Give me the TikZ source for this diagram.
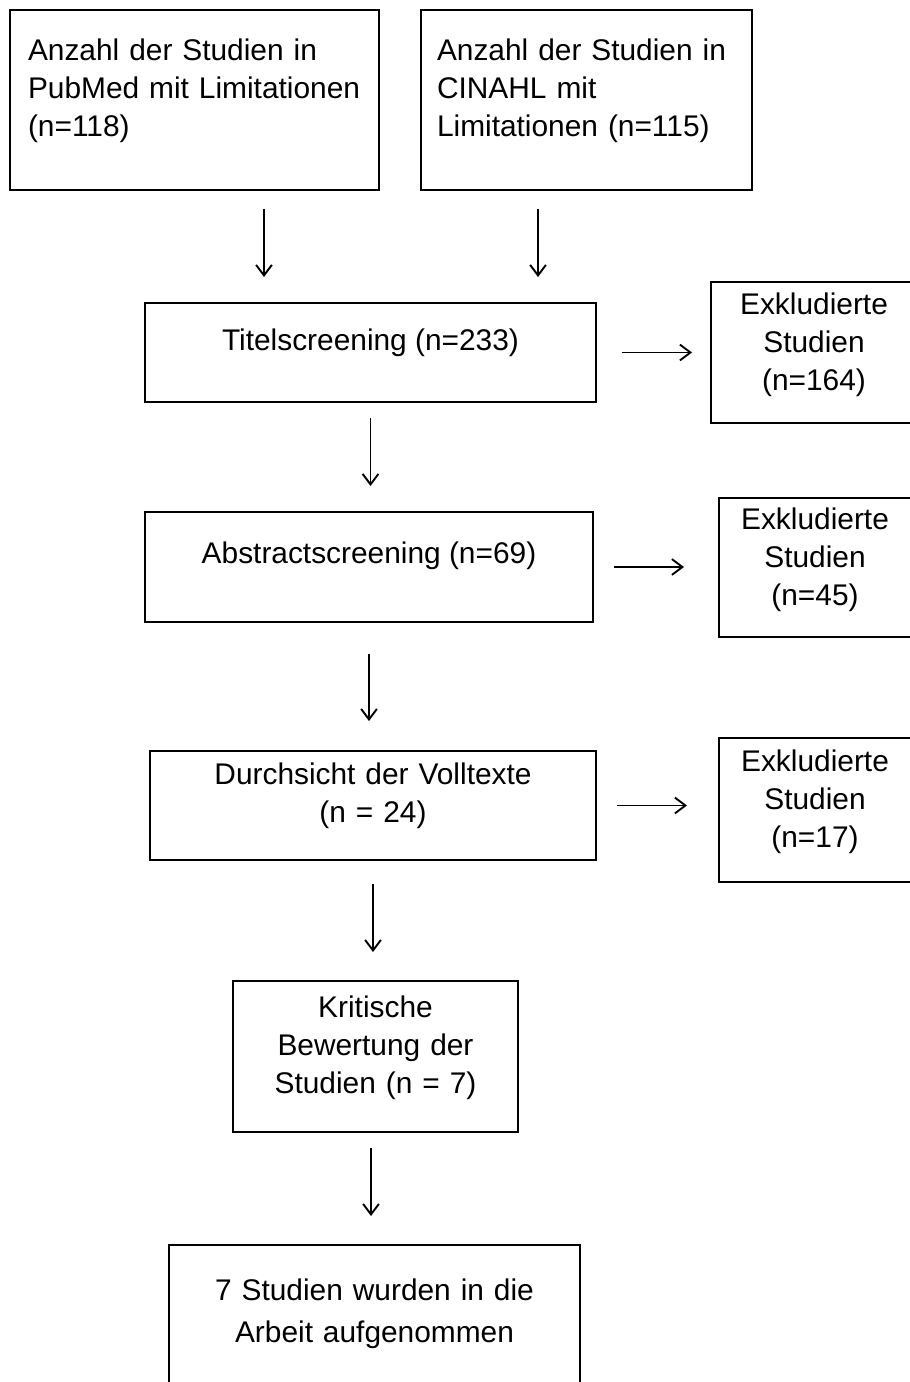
\documentclass[tikz,border=0pt]{standalone}
\usepackage{fontspec}
\setmainfont{Liberation Sans}
\usetikzlibrary{arrows.meta}

\begin{document}
\begin{tikzpicture}[->, >={Straight Barb[length=6pt,width=9pt]}, line width=1.1pt, x=0.02cm, y=-0.02cm,
  every edge/.append style={line width=1.1pt},
  box/.style={draw, rectangle, inner sep=0pt, text height=12.5pt, font=\fontsize{17}{21.5}\selectfont}]
  \useasboundingbox (0,0) rectangle (909,1382);

  \node[box, minimum width=7.38cm, minimum height=3.6cm, text width=6.66cm, align=left, text depth=57pt] (Pub) at (194.5,100) {Anzahl der Studien in\\PubMed mit Limitationen\\(n=118)};
  \node[box, minimum width=6.62cm, minimum height=3.6cm, text width=5.98cm, align=left, text depth=57pt] (Cin) at (586.5,100) {Anzahl der Studien in\\CINAHL mit\\Limitationen (n=115)};
  \node[box, minimum width=9.02cm, minimum height=1.98cm, text depth=14.6pt] (Titel) at (370.5,352.5) {Titelscreening (n=233)};
  \node[box, minimum width=4.12cm, minimum height=2.82cm, text width=3.8cm, align=center, text depth=55.4pt] (Ex1) at (814,352.5) {Exkludierte\\Studien\\(n=164)};
  \node[box, minimum width=8.96cm, minimum height=2.2cm, text depth=16.2pt] (Abs) at (369,567) {Abstractscreening (n=69)};
  \node[box, minimum width=3.84cm, minimum height=2.78cm, text width=3.6cm, align=center, text depth=55.4pt] (Ex2) at (815,567.5) {Exkludierte\\Studien\\(n=45)};
  \node[box, minimum width=8.92cm, minimum height=2.18cm, text width=7.6cm, align=center, text depth=36.2pt] (Voll) at (373,805.5) {Durchsicht der Volltexte\\(n = 24)};
  \node[box, minimum width=3.84cm, minimum height=2.88cm, text width=3.6cm, align=center, text depth=56pt] (Ex3) at (815,810) {Exkludierte\\Studien\\(n=17)};
  \node[box, minimum width=5.7cm, minimum height=3.02cm, text width=5cm, align=center, text depth=56.4pt] (Krit) at (375.5,1056.5) {Kritische\\Bewertung der\\Studien (n = 7)};
  \node[box, minimum width=8.22cm, minimum height=3.1cm, text width=7cm, align=center, text depth=37.2pt, font=\fontsize{17}{23.8}\selectfont] (End) at (374.5,1322.5) {7 Studien wurden in die\\Arbeit aufgenommen};

  \path ([xshift=1.39cm]Pub.south) edge[shorten <=0.36cm, shorten >=0.5cm] ([xshift=1.39cm]Pub.south |- Titel.north)
        ([xshift=-0.97cm]Cin.south) edge[shorten <=0.36cm, shorten >=0.5cm] ([xshift=-0.97cm]Cin.south |- Titel.north)
        (Titel.east) edge[shorten <=0.5cm, shorten >=0.36cm] (Titel.east -| Ex1.west)
        (Titel.south) edge[shorten <=0.3cm, shorten >=0.5cm] (Titel.south |- Abs.north)
        (Abs.east) edge[shorten <=0.4cm, shorten >=0.68cm] (Abs.east -| Ex2.west)
        (Abs.south) edge[shorten <=0.62cm, shorten >=0.58cm] (Abs.south |- Voll.north)
        (Voll.east) edge[shorten <=0.4cm, shorten >=0.62cm] (Voll.east -| Ex3.west)
        (Voll.south) edge[shorten <=0.46cm, shorten >=0.56cm] (Voll.south |- Krit.north)
        ([xshift=-0.09cm]Krit.south) edge[shorten <=0.3cm, shorten >=0.56cm] ([xshift=-0.09cm]Krit.south |- End.north);
\end{tikzpicture}
\end{document}
